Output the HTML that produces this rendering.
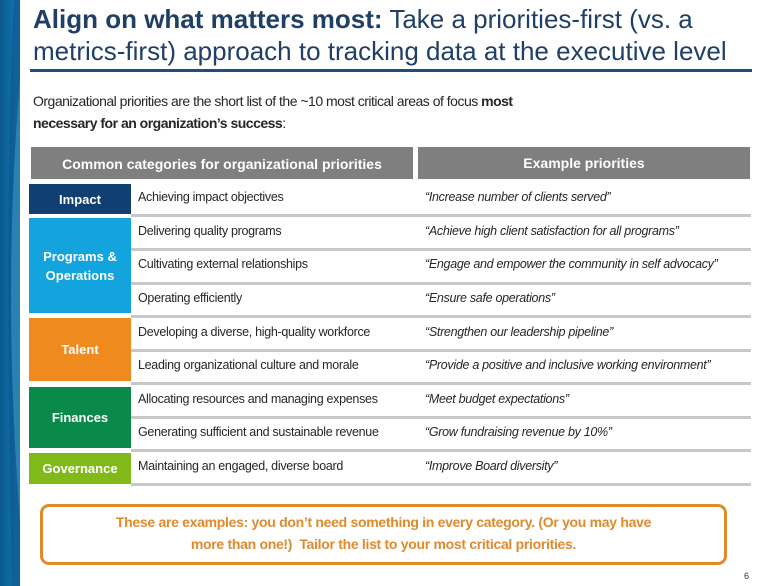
<!DOCTYPE html>
<html><head><meta charset="utf-8"><style>
body{margin:0;width:766px;height:586px;overflow:hidden;background:#fff;font-family:"Liberation Sans",sans-serif;position:relative}
div,span{position:absolute}
.t1{font-size:12.5px;color:#262626;left:138px;letter-spacing:-0.3px}
.t2{font-size:12.5px;color:#262626;left:425px;font-style:italic;letter-spacing:-0.3px}
.cat{left:29px;width:102px;color:#fff;font-weight:bold;font-size:13px;display:flex;align-items:center;justify-content:center;text-align:center;line-height:19px}
.ln{left:131px;width:620px;height:3px;background:#c8c8c8}
</style></head><body>
<svg style="position:absolute;left:0;top:0" width="20" height="586">
<defs><linearGradient id="g" x1="0" x2="1"><stop offset="0" stop-color="#0a5a8c"/><stop offset="1" stop-color="#1479b8"/></linearGradient></defs>
<rect width="20" height="586" fill="url(#g)"/>
<path d="M20 80 Q2 290 20 520 L20 80Z" fill="#48b4e4"/>
<path d="M14 0 Q4 200 12 586 L20 586 L20 0Z" fill="#0b4f80" opacity="0.5"/>
</svg>
<div style="left:33px;top:3px;font-size:26px;line-height:32px;color:#1f3f66;white-space:nowrap;letter-spacing:0px"><b>Align on what matters most:</b> Take a priorities-first (vs. a<br>metrics-first) approach to tracking data at the executive level</div>
<div style="left:30px;top:69px;width:722px;height:3px;background:#1f4e79"></div>
<div style="left:33px;top:90px;font-size:14px;line-height:22px;color:#262626;white-space:nowrap;letter-spacing:-0.5px">Organizational priorities are the short list of the ~10 most critical areas of focus <b>most</b><br><b>necessary for an organization’s success</b>:</div>
<div style="left:31px;top:147px;width:382px;height:32px;background:#7f7f7f;color:#fff;font-weight:bold;font-size:14px;line-height:34px;text-align:center">Common categories for organizational priorities</div>
<div style="left:418px;top:147px;width:332px;height:32px;background:#7f7f7f;color:#fff;font-weight:bold;font-size:14px;line-height:32px;text-align:center">Example priorities</div>
<div class="cat" style="top:184px;height:30px;background:#0f3f73">Impact</div>
<div class="cat" style="top:218px;height:95px;background:#13a3dd">Programs &amp;<br>Operations</div>
<div class="cat" style="top:318px;height:63px;background:#ef8a1e">Talent</div>
<div class="cat" style="top:387px;height:61px;background:#0a8a4a">Finances</div>
<div class="cat" style="top:453px;height:31px;background:#80b918">Governance</div>
<div class="ln" style="top:214px"></div>
<div class="ln" style="top:248px"></div>
<div class="ln" style="top:282px"></div>
<div class="ln" style="top:315px"></div>
<div class="ln" style="top:349px"></div>
<div class="ln" style="top:382px"></div>
<div class="ln" style="top:416px"></div>
<div class="ln" style="top:449px"></div>
<div class="ln" style="top:483px"></div>
<div class="t1" style="top:190px">Achieving impact objectives</div>
<div class="t2" style="top:190px">“Increase number of clients served”</div>
<div class="t1" style="top:224px">Delivering quality programs</div>
<div class="t2" style="top:224px">“Achieve high client satisfaction for all programs”</div>
<div class="t1" style="top:257px">Cultivating external relationships</div>
<div class="t2" style="top:257px">“Engage and empower the community in self advocacy”</div>
<div class="t1" style="top:291px">Operating efficiently</div>
<div class="t2" style="top:291px">“Ensure safe operations”</div>
<div class="t1" style="top:325px">Developing a diverse, high-quality workforce</div>
<div class="t2" style="top:325px">“Strengthen our leadership pipeline”</div>
<div class="t1" style="top:358px">Leading organizational culture and morale</div>
<div class="t2" style="top:358px">“Provide a positive and inclusive working environment”</div>
<div class="t1" style="top:392px">Allocating resources and managing expenses</div>
<div class="t2" style="top:392px">“Meet budget expectations”</div>
<div class="t1" style="top:425px">Generating sufficient and sustainable revenue</div>
<div class="t2" style="top:425px">“Grow fundraising revenue by 10%”</div>
<div class="t1" style="top:459px">Maintaining an engaged, diverse board</div>
<div class="t2" style="top:459px">“Improve Board diversity”</div>
<div style="left:40px;top:504px;width:681px;height:51px;border:3px solid #e08a2c;border-radius:9px;color:#e08a2c;font-weight:bold;font-size:14px;line-height:22px;text-align:center;padding-top:4px;letter-spacing:-0.3px">These are examples: you don’t need something in every category. (Or you may have<br>more than one!)&nbsp; Tailor the list to your most critical priorities.</div>
<div style="left:744px;top:571px;font-size:9px;color:#333">6</div>
</body></html>
